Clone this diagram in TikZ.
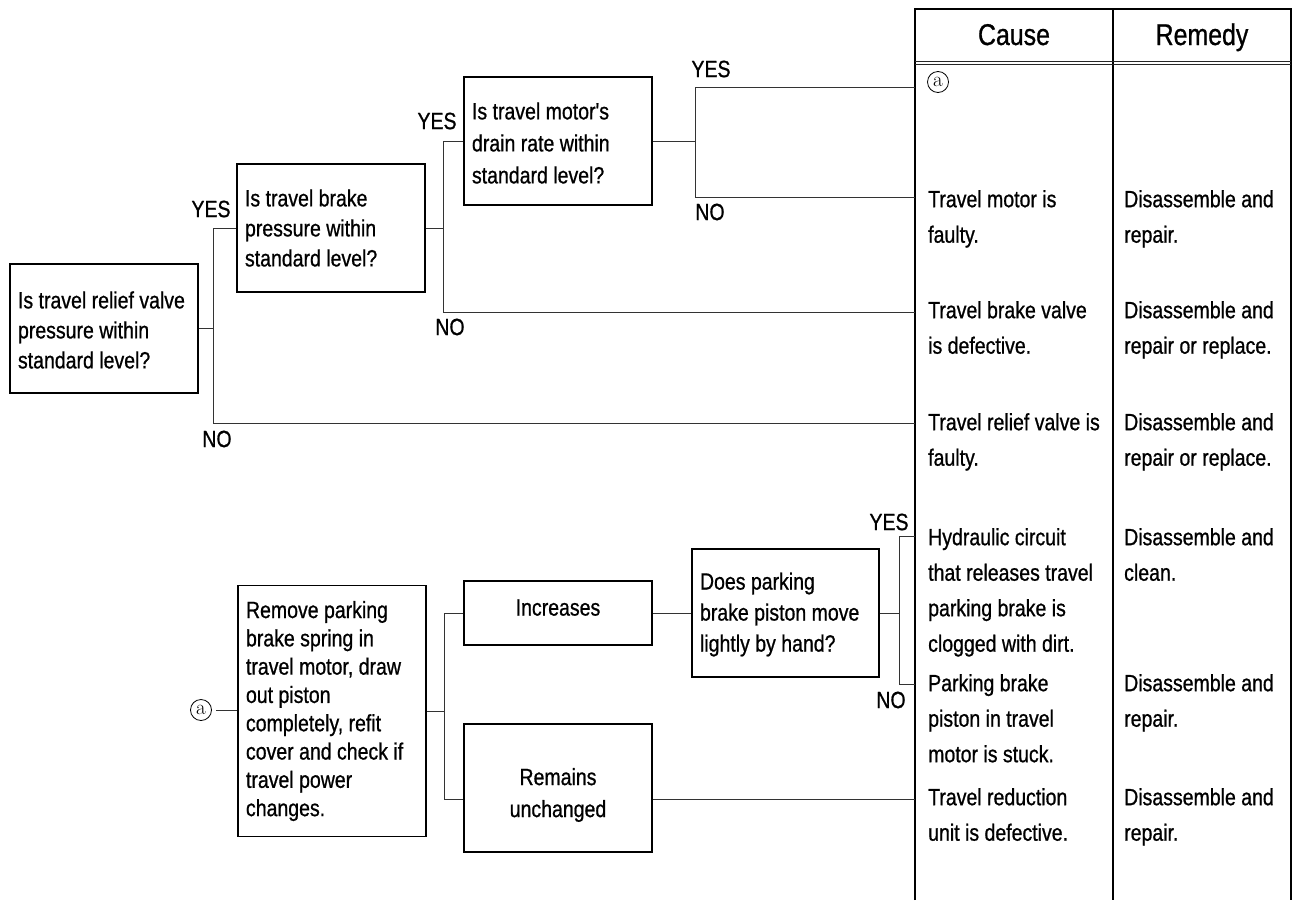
\documentclass[tikz,border=0pt]{standalone}
\usepackage{fontspec}
\newfontfamily\labfont[FakeStretch=0.83,FakeBold=0.8]{Liberation Sans}
\newcommand{\fl}{\rule{0pt}{18pt}}
\begin{document}
\begin{tikzpicture}[x=1pt,y=-1pt,
  every node/.style={font=\labfont\fontsize{23.5}{31}\selectfont, text=black},
  qbox/.style={draw=black, line width=1.2pt, inner xsep=8pt, inner ysep=0pt, align=flush left, text width=172pt},
  cbox/.style={draw=black, line width=1.2pt, inner sep=0pt, align=center, minimum width=188pt},
  conn/.style={draw=black!80, line width=0.9pt},
  lbl/.style={inner sep=0pt},
  cell/.style={anchor=north west, inner sep=0pt, align=left, font=\labfont\fontsize{23.5}{35.5}\selectfont},
  head/.style={anchor=base, inner sep=0pt, font=\labfont\fontsize{30}{30}\selectfont},
  tline/.style={draw=black, line width=1.3pt},
  hline/.style={draw=black!85, line width=0.7pt},
  circa/.style={circle, draw=black, line width=0.8pt, inner sep=0pt, minimum size=21pt, font=\rmfamily\fontsize{21}{21}\selectfont}
]
\useasboundingbox (0,0) rectangle (1298,900);

% table frame
\coordinate (tl) at (915,9);
\coordinate (tr) at (1291,9);
\coordinate (tm) at (1113,9);
\coordinate (bl) at (915,900);
\coordinate (br) at (1291,900);
\coordinate (bm) at (1113,900);
\draw[tline] (bl) -- (tl) -- (tr) -- (br);
\draw[tline] (tm) -- (bm);
\draw[hline] (915,61.5) -- (1291,61.5);
\draw[hline] (915,64.5) -- (1291,64.5);
\node[head] (hc) at (1014,45) {Cause};
\node[head] (hr) at (1202,45) {Remedy};

% question boxes
\node[qbox, minimum height=129pt, font=\labfont\fontsize{23.5}{30}\selectfont] (relief) at (104,328.5) {\rule{0pt}{20pt}Is travel relief valve\\pressure within\\standard level?};
\node[qbox, minimum height=128pt, font=\labfont\fontsize{23.5}{30}\selectfont] (brake) at (331,228) {Is travel brake\\pressure within\\standard level?};
\node[qbox, minimum height=128pt, font=\labfont\fontsize{23.5}{32}\selectfont] (drain) at (558,141) {\rule{0pt}{21pt}Is travel motor's\\drain rate within\\standard level?};
\node[qbox, minimum height=251pt, font=\labfont\fontsize{23.5}{28.3}\selectfont] (remove) at (332,711) {Remove parking\\brake spring in\\travel motor, draw\\out piston\\completely, refit\\cover and check if\\travel power\\changes.};
\node[cbox, minimum height=64pt] (incr) at (558,613) {Increases\rule[-11pt]{0pt}{11pt}};
\node[cbox, minimum height=128pt, font=\labfont\fontsize{23.5}{32}\selectfont] (remains) at (558,788) {\rule{0pt}{31pt}Remains\\unchanged};
\node[qbox, text width=171pt, minimum height=128pt, font=\labfont\fontsize{23.5}{31}\selectfont] (does) at (785.5,613) {\rule{0pt}{20pt}Does parking\\brake piston move\\lightly by hand?};
\node[circa] (a2) at (201,710) {a};
\node[circa] (a1) at (938,82) {a};

% junction coordinates
\coordinate (t0) at (915,87);
\coordinate (t1) at (915,197);
\coordinate (t2) at (915,312);
\coordinate (t3) at (915,423);
\coordinate (t4a) at (915,536);
\coordinate (t4b) at (915,684);
\coordinate (t5) at (915,799);
\coordinate (j1b) at (213,423);
\coordinate (j2b) at (443,312);
\coordinate (j3a) at (695,87);
\coordinate (j3b) at (695,197);
\coordinate (j4b) at (444,799);
\coordinate (j5a) at (899,536);
\coordinate (j5b) at (899,684);

% connectors
\draw[conn] (relief.east) -- (relief.east -| j1b);
\draw[conn] (brake.west) -| (j1b) -- (t3);
\draw[conn] (brake.east) -- (brake.east -| j2b);
\draw[conn] (drain.west) -| (j2b) -- (t2);
\draw[conn] (drain.east) -- (drain.east -| j3a);
\draw[conn] (t0) -- (j3a) -- (j3b) -- (t1);
\draw[conn] ([xshift=4pt]a2.east) -- (a2.east -| remove.west);
\draw[conn] (remove.east) -- (remove.east -| j4b);
\draw[conn] (incr.west) -| (j4b) -- (remains.west |- j4b);
\draw[conn] (remains.east |- j4b) -- (t5);
\draw[conn] (incr.east) -- (does.west);
\draw[conn] (does.east) -- (does.east -| j5a);
\draw[conn] (t4a) -- (j5a) -- (j5b) -- (t4b);

% YES / NO labels
\node[lbl] (y1) at (211,209) {YES};
\node[lbl] (n1) at (217,439) {NO};
\node[lbl] (y2) at (437,121) {YES};
\node[lbl] (n2) at (450,327) {NO};
\node[lbl] (y3) at (711,69) {YES};
\node[lbl] (n3) at (710,212) {NO};
\node[lbl] (y4) at (889,522) {YES};
\node[lbl] (n4) at (891,700) {NO};

% table cells
\node[cell] (c1) at (928,189) {\fl Travel motor is\\faulty.};
\node[cell] (r1) at (1124,189) {\fl Disassemble and\\repair.};
\node[cell] (c2) at (928,300) {\fl Travel brake valve\\is defective.};
\node[cell] (r2) at (1124,300) {\fl Disassemble and\\repair or replace.};
\node[cell] (c3) at (928,412) {\fl Travel relief valve is\\faulty.};
\node[cell] (r3) at (1124,412) {\fl Disassemble and\\repair or replace.};
\node[cell] (c4) at (928,527) {\fl Hydraulic circuit\\that releases travel\\parking brake is\\clogged with dirt.};
\node[cell] (r4) at (1124,527) {\fl Disassemble and\\clean.};
\node[cell] (c5) at (928,673) {\fl Parking brake\\piston in travel\\motor is stuck.};
\node[cell] (r5) at (1124,673) {\fl Disassemble and\\repair.};
\node[cell] (c6) at (928,787) {\fl Travel reduction\\unit is defective.};
\node[cell] (r6) at (1124,787) {\fl Disassemble and\\repair.};
\end{tikzpicture}
\end{document}
